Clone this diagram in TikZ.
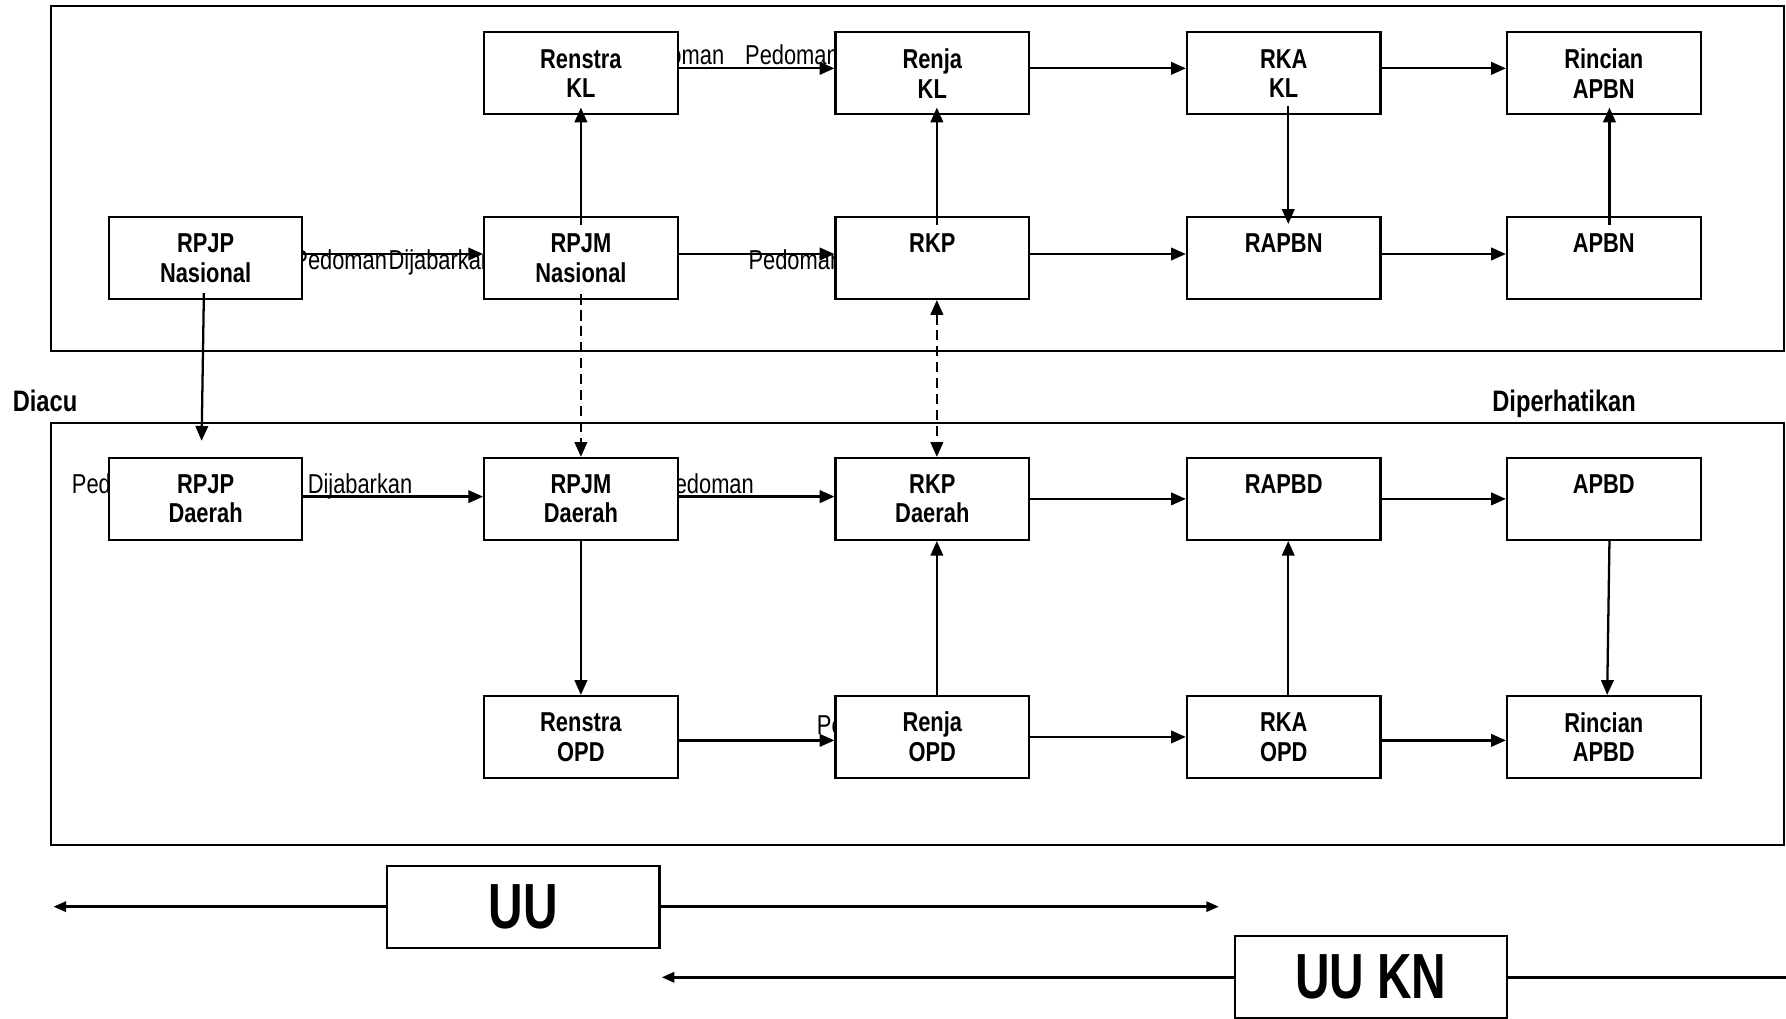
\documentclass[tikz,border=0pt]{standalone}
\usepackage{fontspec}
\setmainfont{Liberation Sans}[FakeStretch=0.8]
\newfontfamily\uufont{Liberation Sans}[FakeStretch=0.75]
\usetikzlibrary{arrows.meta}
\pgfdeclarelayer{bg}
\pgfsetlayers{bg,main}
\begin{document}
\begin{tikzpicture}[x=1pt,y=-1pt,
  box/.style={draw,line width=1.8pt,fill=white,minimum width=170pt,minimum height=72pt,inner sep=0pt,align=center,font=\bfseries\fontsize{24}{26}\selectfont},
  uubox/.style={draw,line width=1.8pt,fill=white,minimum width=239pt,minimum height=72pt,inner sep=0pt,font=\uufont\bfseries\fontsize{56}{60}\selectfont},
  arr/.style={line width=2pt,-{Triangle[length=13pt,width=11pt]}},
  uarr/.style={line width=2.2pt,-{Triangle[length=11pt,width=9pt]}},
  dsh/.style={dash pattern=on 9pt off 5pt},
  lbl/.style={inner sep=0pt,font=\fontsize{24}{26}\selectfont},
  head/.style={inner sep=0pt,font=\bfseries\fontsize{26}{28}\selectfont},
  frame/.style={draw,line width=1.8pt},
]
\useasboundingbox (0,0) rectangle (1568,894);

% boxes
\node[box] (rpjpn) at (180.5,226.5) {RPJP\\Nasional};
\node[box] (rpjmn) at (510,226.5) {RPJM\\Nasional};
\node[box] (rkl) at (510,64.5) {Renstra\\KL};
\node[box] (rjkl) at (818.5,64.5) {Renja\\KL};
\node[box] (rkakl) at (1127,64.5) {RKA\\KL};
\node[box] (rinapbn) at (1408,64.5) {Rincian\\APBN};
\node[box] (rkp) at (818.5,226.5) {RKP\\\mbox{}};
\node[box] (rapbn) at (1127,226.5) {RAPBN\\\mbox{}};
\node[box] (apbn) at (1408,226.5) {APBN\\\mbox{}};
\node[box] (rpjpd) at (180.5,438) {RPJP\\Daerah};
\node[box] (rpjmd) at (510,438) {RPJM\\Daerah};
\node[box] (rkpd) at (818.5,438) {RKP\\Daerah};
\node[box] (rapbd) at (1127,438) {RAPBD\\\mbox{}};
\node[box] (apbd) at (1408,438) {APBD\\\mbox{}};
\node[box] (ropd) at (510,647) {Renstra\\OPD};
\node[box] (rjopd) at (818.5,647) {Renja\\OPD};
\node[box] (rkaopd) at (1127,647) {RKA\\OPD};
\node[box] (rinapbd) at (1408,647) {Rincian\\APBD};

\node[uubox] (uu) at (459.5,796) {UU};
\node[uubox] (uukn) at (1203.5,858) {UU KN};

\node[head,anchor=base west] (diacu) at (11,361) {Diacu};
\node[head,anchor=base west] (diper) at (1310,361) {Diperhatikan};

\coordinate (dacu) at (177,387);
\coordinate (uuL) at (47,796);
\coordinate (uuR) at (1070,796);
\coordinate (ukL) at (581,858);
\coordinate (ukR) at (1590,858);

% frames and labels under the boxes
\begin{pgfonlayer}{bg}
\draw[frame] (45,5) rectangle (1566,308);
\draw[frame] (45,371) rectangle (1566,742);
\node[lbl,anchor=base east] (l1) at (636,57) {Pedoman};
\node[lbl,anchor=base west] (l2) at (654,57) {Pedoman};
\node[lbl,anchor=base east] (l3) at (340,237) {Pedoman};
\node[lbl,anchor=base west] (l4) at (341,237) {Dijabarkan};
\node[lbl,anchor=base west] (l5) at (657,237) {Pedoman};
\node[lbl,anchor=base west] (l6) at (63,433) {Pedoman};
\node[lbl,anchor=base west] (l7) at (270,433) {Dijabarkan};
\node[lbl,anchor=base east] (l8) at (662,433) {Pedoman};
\node[lbl,anchor=base west] (l9) at (717,645) {Pedoman};
\end{pgfonlayer}

% horizontal connectors
\draw[arr] ([yshift=4.5pt]rkl.east) -- ([yshift=4.5pt]rjkl.west);
\draw[arr] ([yshift=4.5pt]rjkl.east) -- ([yshift=4.5pt]rkakl.west);
\draw[arr] ([yshift=4.5pt]rkakl.east) -- ([yshift=4.5pt]rinapbn.west);
\draw[arr] ([yshift=3.5pt]rpjpn.east) -- ([yshift=3.5pt]rpjmn.west);
\draw[arr] ([yshift=3.5pt]rpjmn.east) -- ([yshift=3.5pt]rkp.west);
\draw[arr] ([yshift=3.5pt]rkp.east) -- ([yshift=3.5pt]rapbn.west);
\draw[arr] ([yshift=3.5pt]rapbn.east) -- ([yshift=3.5pt]apbn.west);
\draw[arr] ([yshift=2pt]rpjpd.east) -- ([yshift=2pt]rpjmd.west);
\draw[arr] ([yshift=2pt]rpjmd.east) -- ([yshift=2pt]rkpd.west);
\draw[arr] (rkpd.east) -- (rapbd.west);
\draw[arr] (rapbd.east) -- (apbd.west);
\draw[arr] ([yshift=-3pt]ropd.east) -- ([yshift=-3pt]rjopd.west);
\draw[arr] (rjopd.east) -- (rkaopd.west);
\draw[arr] ([yshift=-3pt]rkaopd.east) -- ([yshift=-3pt]rinapbd.west);

% vertical connectors, upper part
\draw[arr] ([yshift=-8pt]rpjmn.north) -- ([yshift=7pt]rkl.south);
\draw[arr] ([xshift=4pt,yshift=-8pt]rkp.north) -- ([xshift=4pt,yshift=7pt]rjkl.south);
\draw[arr] ([xshift=4pt,yshift=8pt]rkakl.south) -- ([xshift=4pt,yshift=-7pt]rapbn.north);
\draw[arr] ([xshift=5pt,yshift=-8pt]apbn.north) -- ([xshift=5pt,yshift=7pt]rinapbn.south);

% between the parts
\draw[arr] ([xshift=-1.5pt,yshift=6pt]rpjpn.south) -- (dacu);
\draw[arr,dsh] ([yshift=5pt]rpjmn.south) -- (rpjmd.north);
\draw[line width=2pt,dsh,{Triangle[length=13pt,width=11pt]}-{Triangle[length=13pt,width=11pt]}] ([xshift=4pt]rkp.south) -- ([xshift=4pt]rkpd.north);

% vertical connectors, lower part
\draw[arr] (rpjmd.south) -- (ropd.north);
\draw[arr] ([xshift=4pt]rjopd.north) -- ([xshift=4pt]rkpd.south);
\draw[arr] ([xshift=4pt]rkaopd.north) -- ([xshift=4pt]rapbd.south);
\draw[arr] ([xshift=5pt]apbd.south) -- ([xshift=3pt]rinapbd.north);

% UU arrows
\draw[uarr] (uu.west) -- (uuL);
\draw[uarr] (uu.east) -- (uuR);
\draw[uarr] (uukn.west) -- (ukL);
\draw[line width=2.2pt] (uukn.east) -- (ukR);
\end{tikzpicture}
\end{document}
